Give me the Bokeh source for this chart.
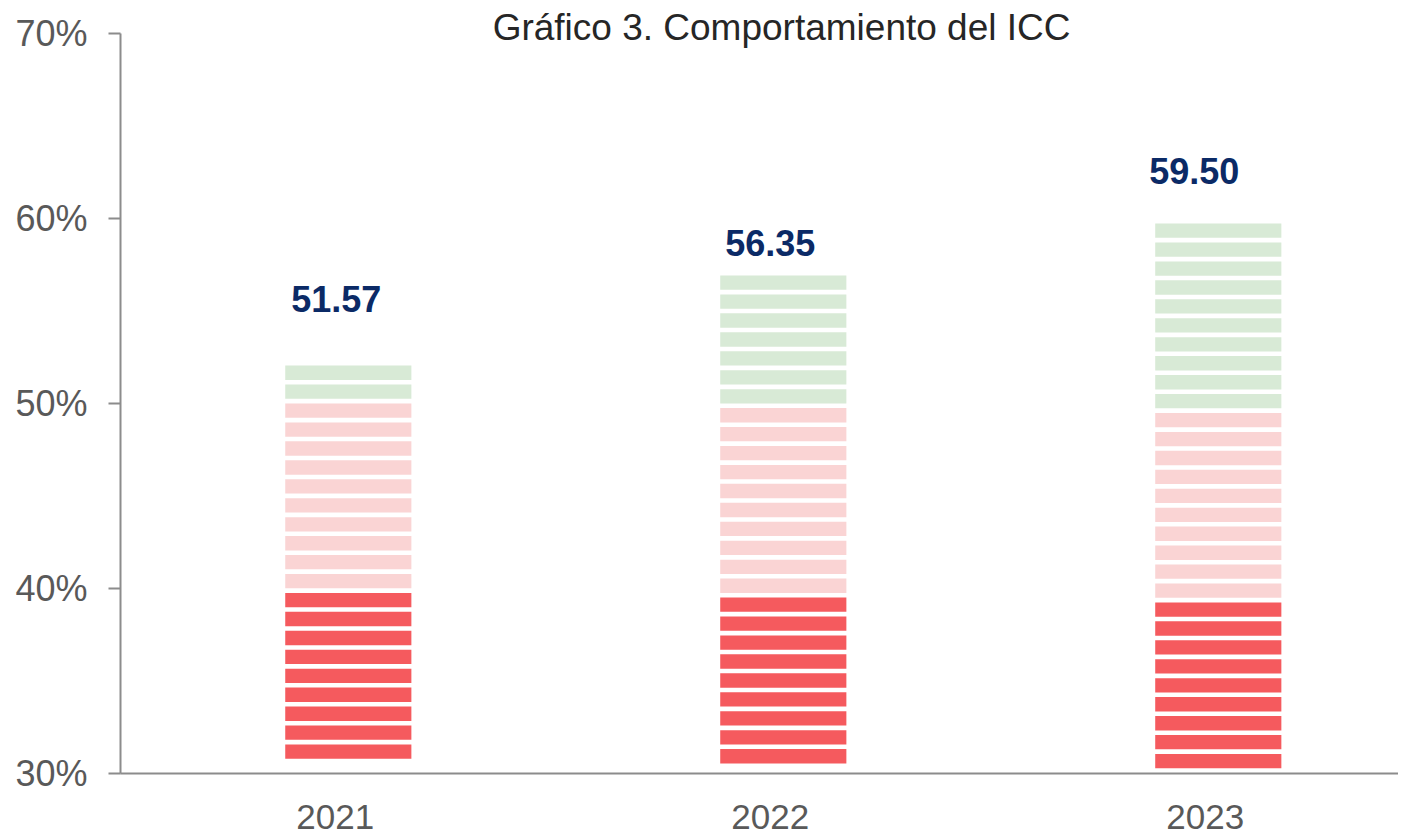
from bokeh.plotting import figure
from bokeh.models import ColumnDataSource, FixedTicker, Range1d, Label, LabelSet, PrintfTickFormatter
from bokeh.core.properties import value
from bokeh.embed import file_html
from bokeh.resources import INLINE

# ---- data ----
years = ["2021", "2022", "2023"]
icc = [51.57, 56.35, 59.50]
column_top = [52.05, 56.92, 59.73]      # top of each striped column (%)
n_green = [2, 7, 10]                     # stripes per colour band
n_pink = [10, 10, 10]
n_red = [9, 9, 9]
y_ticks = [30, 40, 50, 60, 70]
title_text = "Gráfico 3. Comportamiento del ICC"

# ---- style ----
RED = "#F55A5E"
PINK = "#FAD4D4"
GREEN = "#D8EAD6"
NAVY = "#0B2A66"
GREY_TXT = "#595959"
AXIS_GREY = "#8C8C8C"
FONT = "Liberation Sans"
PITCH = 1.024
STRIPE_H = 0.775
BAR_W = 0.29
BAR_SHIFT = 0.03
label_dx = [1, 0, -11]
label_dy = [75, 43, 57]

xs, tops, bottoms, colors = [], [], [], []
for i in range(len(years)):
    k = 0
    for color, n in ((GREEN, n_green[i]), (PINK, n_pink[i]), (RED, n_red[i])):
        for _ in range(n):
            t = column_top[i] - k * PITCH
            xs.append(i + BAR_SHIFT)
            tops.append(t)
            bottoms.append(t - STRIPE_H)
            colors.append(color)
            k += 1

stripes = ColumnDataSource(dict(x=xs, top=tops, bottom=bottoms, color=colors))

p = figure(width=1398, height=836, output_backend="svg", toolbar_location=None,
           x_range=Range1d(-0.4937, 2.4443), y_range=Range1d(30, 71.514),
           min_border_left=120, min_border_right=0, min_border_top=5, min_border_bottom=63)
p.outline_line_color = None
p.xgrid.visible = False
p.ygrid.visible = False
p.background_fill_color = "white"
p.border_fill_color = "white"

p.vbar(x="x", top="top", bottom="bottom", width=BAR_W, fill_color="color",
       line_color=None, source=stripes)

# y axis
yax = p.yaxis[0]
yax.bounds = (y_ticks[0], y_ticks[-1])
yax.ticker = FixedTicker(ticks=y_ticks)
yax.formatter = PrintfTickFormatter(format="%d%%")
yax.axis_line_color = AXIS_GREY
yax.axis_line_width = 2
yax.major_tick_line_color = AXIS_GREY
yax.major_tick_line_width = 2
yax.major_tick_out = 12
yax.major_tick_in = 0
yax.minor_tick_line_color = None
yax.major_label_standoff = 21
yax.major_label_text_font = FONT
yax.major_label_text_font_size = "36px"
yax.major_label_text_color = GREY_TXT

# x axis
xax = p.xaxis[0]
xax.ticker = FixedTicker(ticks=list(range(len(years))))
xax.major_label_overrides = {i: y for i, y in enumerate(years)}
xax.axis_line_color = AXIS_GREY
xax.axis_line_width = 2
xax.major_tick_line_color = None
xax.major_tick_out = 0
xax.major_tick_in = 0
xax.minor_tick_line_color = None
xax.major_label_standoff = 31
xax.major_label_text_font = FONT
xax.major_label_text_font_size = "35px"
xax.major_label_text_color = GREY_TXT

val_src = ColumnDataSource(dict(x=list(range(len(years))), y=icc,
                                text=[f"{v:.2f}" for v in icc], dx=label_dx, dy=label_dy))
p.add_layout(LabelSet(x="x", y="y", text="text", source=val_src, x_offset="dx", y_offset="dy",
                      text_align="center", text_baseline="middle",
                      text_font=value(FONT), text_font_size="36px", text_font_style="bold",
                      text_color=NAVY))

p.add_layout(Label(x=1.026, y=70, y_offset=6, text=title_text, text_align="center",
                   text_baseline="middle", text_font=FONT, text_font_size="37px",
                   text_color="#262626"))

open("out.html", "w").write(file_html(p, INLINE))
